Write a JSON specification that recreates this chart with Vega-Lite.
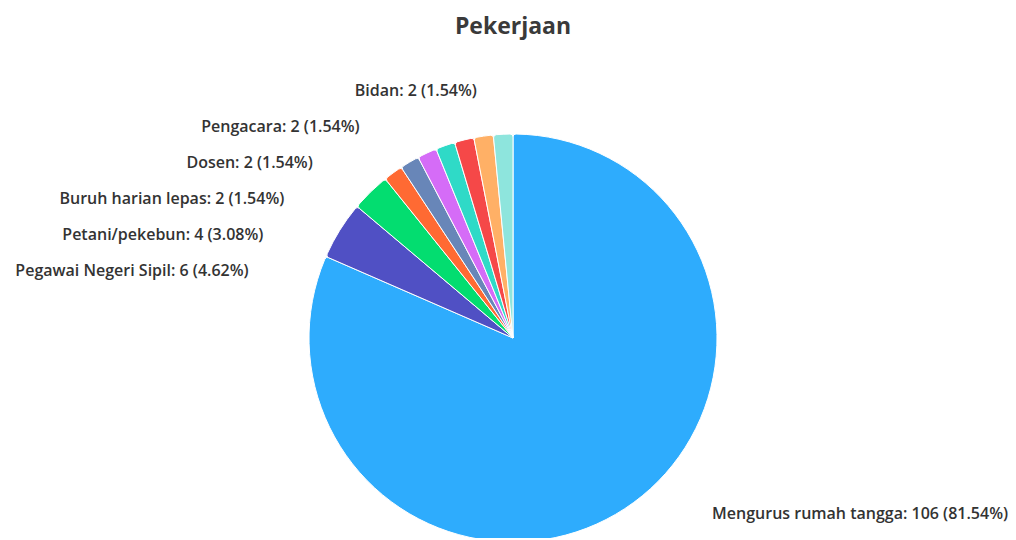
{
  "$schema": "https://vega.github.io/schema/vega-lite/v6.json",
  "width": 1006,
  "height": 400,
  "autosize": {"type": "none"},
  "padding": {"left": 10, "top": 138, "right": 0, "bottom": 0},
  "background": "white",
  "title": {"text": "Pekerjaan", "fontSize": 23, "fontWeight": "bold", "font": "Open Sans", "color": "#3a3a3a", "anchor": "middle", "frame": "group", "baseline": "alphabetic", "offset": 26},
  "config": {"view": {"stroke": null}},
  "data": {"values": [
    {"no": 1, "pekerjaan": "Mengurus rumah tangga", "jumlah": 106, "label": "Mengurus rumah tangga: 106 (81.54%)"},
    {"no": 2, "pekerjaan": "Pegawai Negeri Sipil", "jumlah": 6, "label": "Pegawai Negeri Sipil: 6 (4.62%)"},
    {"no": 3, "pekerjaan": "Petani/pekebun", "jumlah": 4, "label": "Petani/pekebun: 4 (3.08%)"},
    {"no": 4, "pekerjaan": "Wiraswasta", "jumlah": 2, "label": "Wiraswasta: 2 (1.54%)"},
    {"no": 5, "pekerjaan": "Pedagang", "jumlah": 2, "label": "Pedagang: 2 (1.54%)"},
    {"no": 6, "pekerjaan": "Karyawan swasta", "jumlah": 2, "label": "Karyawan swasta: 2 (1.54%)"},
    {"no": 7, "pekerjaan": "Buruh harian lepas", "jumlah": 2, "label": "Buruh harian lepas: 2 (1.54%)"},
    {"no": 8, "pekerjaan": "Dosen", "jumlah": 2, "label": "Dosen: 2 (1.54%)"},
    {"no": 9, "pekerjaan": "Pengacara", "jumlah": 2, "label": "Pengacara: 2 (1.54%)"},
    {"no": 10, "pekerjaan": "Bidan", "jumlah": 2, "label": "Bidan: 2 (1.54%)"}
  ]},
  "encoding": {
    "theta": {"field": "jumlah", "type": "quantitative", "stack": true},
    "order": {"field": "no", "type": "quantitative", "sort": "ascending"}
  },
  "layer": [
    {
      "mark": {"type": "arc", "radius": 204, "cornerRadius": 3, "stroke": "white", "strokeWidth": 1},
      "encoding": {
        "color": {
          "field": "pekerjaan", "type": "nominal", "legend": null,
          "scale": {
            "domain": ["Mengurus rumah tangga", "Pegawai Negeri Sipil", "Petani/pekebun", "Wiraswasta", "Pedagang", "Karyawan swasta", "Buruh harian lepas", "Dosen", "Pengacara", "Bidan"],
            "range": ["#2eacfd", "#5050c4", "#03dd70", "#ff6a33", "#6886b8", "#d56cf7", "#2fdac7", "#f54848", "#ffb066", "#8ee5dd"]
          }
        }
      }
    },
    {
      "mark": {"type": "text", "radius": 210, "align": "left", "baseline": "middle", "dx": 84, "dy": 0, "font": "Open Sans", "fontSize": 16, "fontWeight": 600, "color": "#333333"},
      "encoding": {"detail": {"field": "pekerjaan", "type": "nominal"}, "text": {"condition": {"test": "datum.pekerjaan === 'Mengurus rumah tangga'", "field": "label", "type": "nominal"}, "value": ""}}
    },
    {
      "mark": {"type": "text", "radius": 210, "align": "right", "baseline": "middle", "dx": -86, "dy": 44, "font": "Open Sans", "fontSize": 16, "fontWeight": 600, "color": "#333333"},
      "encoding": {"detail": {"field": "pekerjaan", "type": "nominal"}, "text": {"condition": {"test": "datum.pekerjaan === 'Pegawai Negeri Sipil'", "field": "label", "type": "nominal"}, "value": ""}}
    },
    {
      "mark": {"type": "text", "radius": 210, "align": "right", "baseline": "middle", "dx": -103, "dy": 47, "font": "Open Sans", "fontSize": 16, "fontWeight": 600, "color": "#333333"},
      "encoding": {"detail": {"field": "pekerjaan", "type": "nominal"}, "text": {"condition": {"test": "datum.pekerjaan === 'Petani/pekebun'", "field": "label", "type": "nominal"}, "value": ""}}
    },
    {
      "mark": {"type": "text", "radius": 210, "align": "right", "baseline": "middle", "dx": -159, "dy": 59, "font": "Open Sans", "fontSize": 16, "fontWeight": 600, "color": "#333333"},
      "encoding": {"detail": {"field": "pekerjaan", "type": "nominal"}, "text": {"condition": {"test": "datum.pekerjaan === 'Buruh harian lepas'", "field": "label", "type": "nominal"}, "value": ""}}
    },
    {
      "mark": {"type": "text", "radius": 210, "align": "right", "baseline": "middle", "dx": -150, "dy": 29, "font": "Open Sans", "fontSize": 16, "fontWeight": 600, "color": "#333333"},
      "encoding": {"detail": {"field": "pekerjaan", "type": "nominal"}, "text": {"condition": {"test": "datum.pekerjaan === 'Dosen'", "field": "label", "type": "nominal"}, "value": ""}}
    },
    {
      "mark": {"type": "text", "radius": 210, "align": "right", "baseline": "middle", "dx": -123, "dy": -3, "font": "Open Sans", "fontSize": 16, "fontWeight": 600, "color": "#333333"},
      "encoding": {"detail": {"field": "pekerjaan", "type": "nominal"}, "text": {"condition": {"test": "datum.pekerjaan === 'Pengacara'", "field": "label", "type": "nominal"}, "value": ""}}
    },
    {
      "mark": {"type": "text", "radius": 210, "align": "right", "baseline": "middle", "dx": -26, "dy": -37, "font": "Open Sans", "fontSize": 16, "fontWeight": 600, "color": "#333333"},
      "encoding": {"detail": {"field": "pekerjaan", "type": "nominal"}, "text": {"condition": {"test": "datum.pekerjaan === 'Bidan'", "field": "label", "type": "nominal"}, "value": ""}}
    }
  ]
}
